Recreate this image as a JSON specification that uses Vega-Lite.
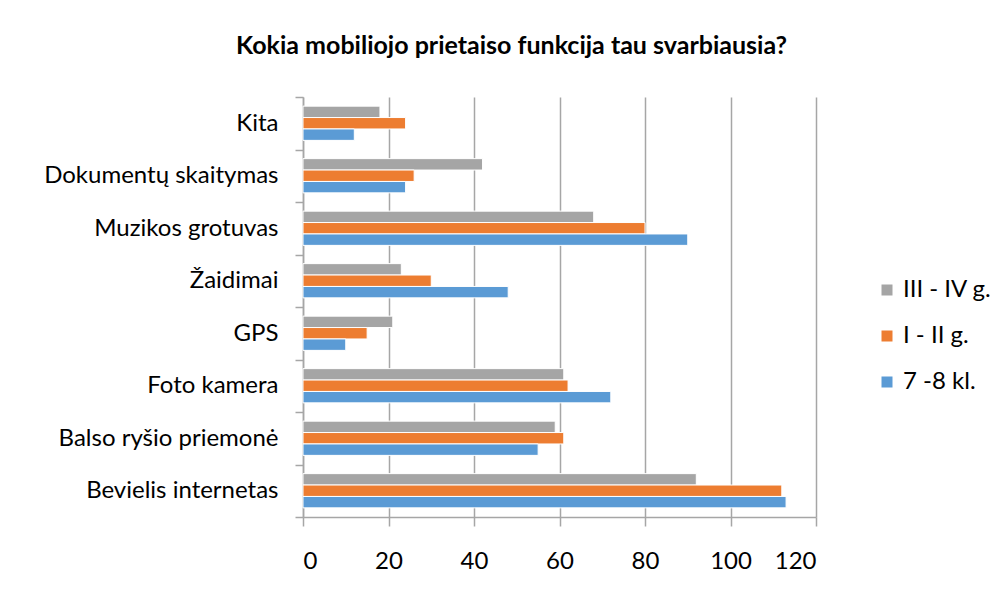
{
  "$schema": "https://vega.github.io/schema/vega-lite/v6.json",
  "autosize": {"type": "none"},
  "width": 513,
  "height": 420,
  "padding": {"left": 303, "top": 97, "right": 190, "bottom": 82},
  "background": "white",
  "title": {
    "text": "Kokia mobiliojo prietaiso funkcija tau svarbiausia?",
    "anchor": "middle",
    "frame": "group",
    "dx": -48,
    "offset": 26,
    "font": "Lato",
    "fontSize": 25,
    "fontWeight": "bold",
    "color": "#000000"
  },
  "data": {
    "values": [
      {"funkcija": "Kita", "grupe": "III - IV g.", "reiksme": 18},
      {"funkcija": "Kita", "grupe": "I - II g.", "reiksme": 24},
      {"funkcija": "Kita", "grupe": "7 -8 kl.", "reiksme": 12},
      {"funkcija": "Dokumentų skaitymas", "grupe": "III - IV g.", "reiksme": 42},
      {"funkcija": "Dokumentų skaitymas", "grupe": "I - II g.", "reiksme": 26},
      {"funkcija": "Dokumentų skaitymas", "grupe": "7 -8 kl.", "reiksme": 24},
      {"funkcija": "Muzikos grotuvas", "grupe": "III - IV g.", "reiksme": 68},
      {"funkcija": "Muzikos grotuvas", "grupe": "I - II g.", "reiksme": 80},
      {"funkcija": "Muzikos grotuvas", "grupe": "7 -8 kl.", "reiksme": 90},
      {"funkcija": "Žaidimai", "grupe": "III - IV g.", "reiksme": 23},
      {"funkcija": "Žaidimai", "grupe": "I - II g.", "reiksme": 30},
      {"funkcija": "Žaidimai", "grupe": "7 -8 kl.", "reiksme": 48},
      {"funkcija": "GPS", "grupe": "III - IV g.", "reiksme": 21},
      {"funkcija": "GPS", "grupe": "I - II g.", "reiksme": 15},
      {"funkcija": "GPS", "grupe": "7 -8 kl.", "reiksme": 10},
      {"funkcija": "Foto kamera", "grupe": "III - IV g.", "reiksme": 61},
      {"funkcija": "Foto kamera", "grupe": "I - II g.", "reiksme": 62},
      {"funkcija": "Foto kamera", "grupe": "7 -8 kl.", "reiksme": 72},
      {"funkcija": "Balso ryšio priemonė", "grupe": "III - IV g.", "reiksme": 59},
      {"funkcija": "Balso ryšio priemonė", "grupe": "I - II g.", "reiksme": 61},
      {"funkcija": "Balso ryšio priemonė", "grupe": "7 -8 kl.", "reiksme": 55},
      {"funkcija": "Bevielis internetas", "grupe": "III - IV g.", "reiksme": 92},
      {"funkcija": "Bevielis internetas", "grupe": "I - II g.", "reiksme": 112},
      {"funkcija": "Bevielis internetas", "grupe": "7 -8 kl.", "reiksme": 113}
    ]
  },
  "mark": {"type": "bar", "stroke": "white", "strokeWidth": 1},
  "encoding": {
    "y": {
      "field": "funkcija",
      "type": "nominal",
      "sort": ["Kita", "Dokumentų skaitymas", "Muzikos grotuvas", "Žaidimai", "GPS", "Foto kamera", "Balso ryšio priemonė", "Bevielis internetas"],
      "scale": {"paddingInner": 0, "paddingOuter": 0},
      "axis": {
        "title": null,
        "tickBand": "extent",
        "domainColor": "#a6a6a6",
        "domainWidth": 1.5,
        "tickColor": "#a6a6a6",
        "tickWidth": 1.5,
        "tickSize": 8,
        "labelPadding": 17,
        "labelFont": "Lato",
        "labelFontSize": 24,
        "labelLimit": 0,
        "labelColor": "#000000",
        "grid": false
      }
    },
    "yOffset": {
      "field": "grupe",
      "type": "nominal",
      "sort": ["III - IV g.", "I - II g.", "7 -8 kl."],
      "scale": {"paddingInner": 0, "paddingOuter": 0.8}
    },
    "x": {
      "field": "reiksme",
      "type": "quantitative",
      "scale": {"domain": [0, 120], "nice": false},
      "axis": {
        "title": null,
        "values": [0, 20, 40, 60, 80, 100, 120],
        "grid": true,
        "gridColor": "#a6a6a6",
        "gridWidth": 1.5,
        "domainColor": "#a6a6a6",
        "domainWidth": 1.5,
        "tickColor": "#a6a6a6",
        "tickWidth": 1.5,
        "tickSize": 9,
        "labelPadding": 23,
        "labelFont": "Lato",
        "labelFontSize": 24,
        "labelColor": "#000000"
      }
    },
    "color": {
      "field": "grupe",
      "type": "nominal",
      "sort": ["III - IV g.", "I - II g.", "7 -8 kl."],
      "scale": {"domain": ["III - IV g.", "I - II g.", "7 -8 kl."], "range": ["#a5a5a5", "#ed7d31", "#5b9bd5"]},
      "legend": {
        "title": null,
        "orient": "none",
        "legendX": 572,
        "legendY": 181,
        "padding": 0,
        "symbolType": "square",
        "symbolSize": 121,
        "symbolStrokeWidth": 0,
        "labelFont": "Lato",
        "labelFontSize": 24,
        "labelColor": "#000000",
        "labelOffset": 4,
        "labelLimit": 0,
        "rowPadding": 22
      }
    }
  },
  "config": {"view": {"stroke": null}}
}
